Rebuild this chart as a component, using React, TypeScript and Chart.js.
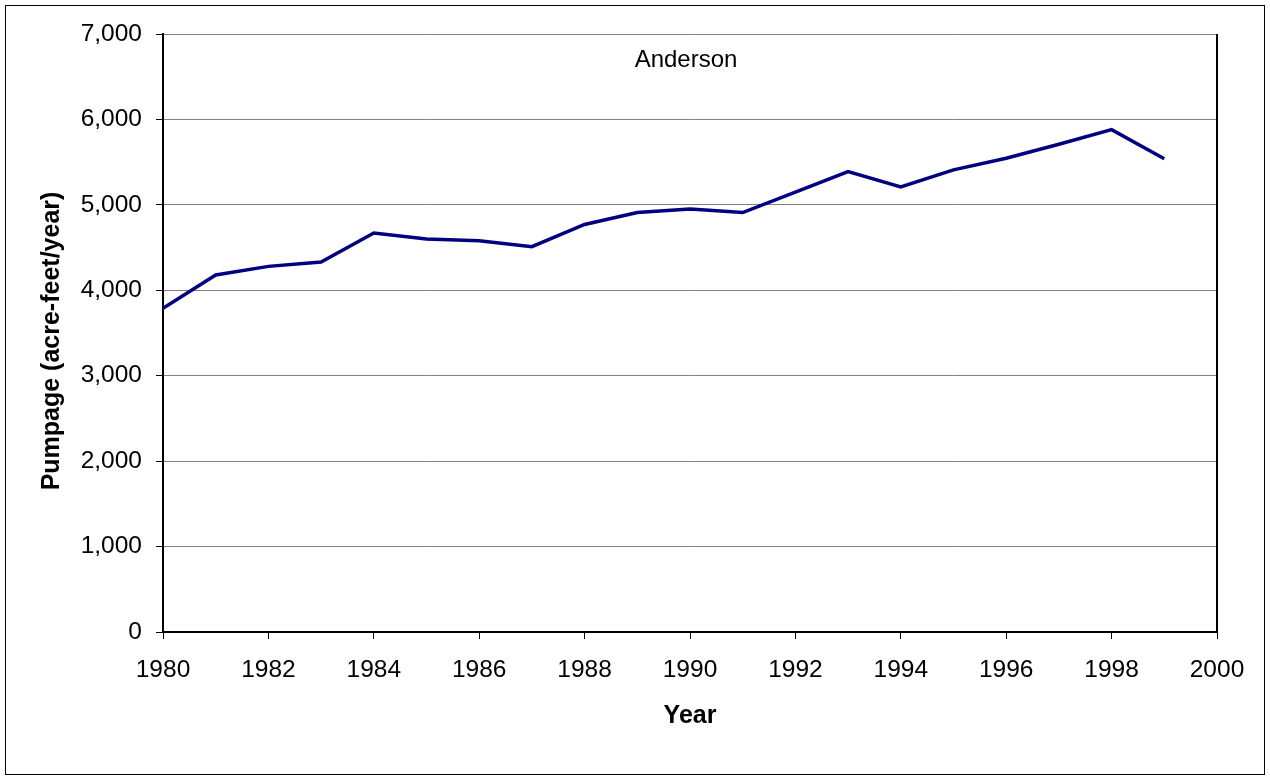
import React, { useEffect, useRef } from "react";
import { Chart, registerables } from "chart.js";

Chart.register(...registerables);

const years = [1980, 1981, 1982, 1983, 1984, 1985, 1986, 1987, 1988, 1989, 1990, 1991, 1992, 1993, 1994, 1995, 1996, 1997, 1998, 1999];
const pumpage = [3790, 4180, 4280, 4330, 4670, 4600, 4580, 4510, 4770, 4910, 4950, 4910, 5150, 5390, 5210, 5410, 5545, 5710, 5880, 5540];
const xTicks = [1980, 1982, 1984, 1986, 1988, 1990, 1992, 1994, 1996, 1998, 2000];
const chartTitle = "Anderson";
const xTitle = "Year";
const yTitle = "Pumpage (acre-feet/year)";

const FONT = "Arial, 'Liberation Sans', sans-serif";

export default function App() {
  const ref = useRef<HTMLCanvasElement | null>(null);

  useEffect(() => {
    document.body.style.margin = "0";
    const canvas = ref.current;
    if (!canvas) return;

    const framePlugin = {
      id: "frame",
      afterDraw(chart: any) {
        const ctx = chart.ctx;
        const a = chart.chartArea;
        ctx.save();
        // outer border
        ctx.strokeStyle = "#000";
        ctx.lineWidth = 1;
        ctx.strokeRect(5.5, 5.5, 1259, 769);
        // right border of plot
        ctx.lineWidth = 2;
        ctx.beginPath();
        ctx.moveTo(a.right, a.top);
        ctx.lineTo(a.right, a.bottom + 1);
        ctx.stroke();
        // inner title
        ctx.fillStyle = "#000";
        ctx.font = `24px ${FONT}`;
        ctx.textAlign = "center";
        ctx.textBaseline = "alphabetic";
        ctx.fillText(chartTitle, 686, 67);
        // y axis title
        ctx.font = `bold 25px ${FONT}`;
        ctx.translate(52.5, 341);
        ctx.rotate(-Math.PI / 2);
        ctx.textBaseline = "middle";
        ctx.fillText(yTitle, 0, 0);
        ctx.restore();
      },
    };

    const chart = new Chart(canvas, {
      type: "line",
      data: {
        datasets: [
          {
            data: years.map((y, i) => ({ x: y, y: pumpage[i] })),
            borderColor: "#000080",
            borderWidth: 3.5,
            pointRadius: 0,
            fill: false,
            tension: 0,
          },
        ],
      },
      options: {
        animation: false,
        responsive: false,
        maintainAspectRatio: false,
        layout: { padding: { left: 0, top: 34, right: 53, bottom: 0 } },
        plugins: { legend: { display: false }, tooltip: { enabled: false }, title: { display: false } },
        scales: {
          x: {
            type: "linear",
            min: xTicks[0],
            max: xTicks[xTicks.length - 1],
            afterFit: (s: any) => {
              s.height = 144;
            },
            afterBuildTicks: (s: any) => {
              s.ticks = xTicks.map((v) => ({ value: v }));
            },
            ticks: {
              color: "#000",
              padding: 17,
              font: { family: FONT, size: 24.5 },
              callback: (v: any) => String(v),
              maxRotation: 0,
              autoSkip: false,
            },
            grid: {
              drawOnChartArea: false,
              drawTicks: true,
              tickLength: 7,
              tickColor: "#000",
            },
            border: { color: "#000", width: 2 },
            title: {
              display: true,
              text: xTitle,
              color: "#000",
              font: { family: FONT, size: 25, weight: "bold" },
              padding: { top: 0, bottom: 45 },
            },
          },
          y: {
            min: 0,
            max: 7000,
            afterFit: (s: any) => {
              s.width = 163;
            },
            ticks: {
              stepSize: 1000,
              color: "#000",
              padding: 14,
              font: { family: FONT, size: 24.5 },
              callback: (v: any) => Number(v).toLocaleString("en-US"),
            },
            grid: {
              color: "#808080",
              lineWidth: 1,
              drawTicks: true,
              tickLength: 7,
              tickColor: "#000",
            },
            border: { color: "#000", width: 2 },
            title: { display: false },
          },
        },
      },
      plugins: [framePlugin],
    });

    return () => chart.destroy();
  }, []);

  return (
    <div style={{ width: 1270, height: 776, background: "#fff" }}>
      <canvas ref={ref} width={1270} height={776} style={{ display: "block", width: 1270, height: 776 }} />
    </div>
  );
}
